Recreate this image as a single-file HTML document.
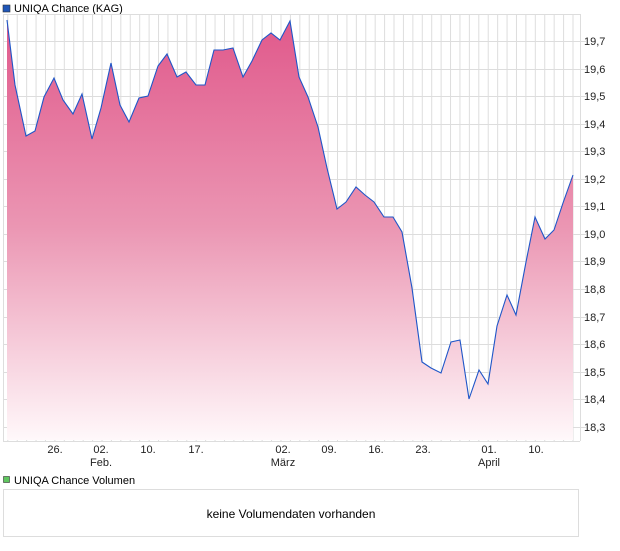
<!DOCTYPE html>
<html><head><meta charset="utf-8"><style>
body{margin:0;background:#fff;width:620px;height:546px;overflow:hidden;font-family:"Liberation Sans",sans-serif}
</style></head><body>
<svg width="620" height="546" viewBox="0 0 620 546" xmlns="http://www.w3.org/2000/svg" font-family="Liberation Sans, sans-serif">
<defs>
<linearGradient id="g" gradientUnits="userSpaceOnUse" x1="0" y1="14" x2="0" y2="440">
<stop offset="0" stop-color="#e0578a"/>
<stop offset="0.5" stop-color="#eb96b3"/>
<stop offset="1" stop-color="#fff8fa"/>
</linearGradient>
<pattern id="vg" patternUnits="userSpaceOnUse" x="7.3" y="0" width="9.42" height="546">
<rect x="0" y="0" width="1" height="546" fill="#dddddd"/>
</pattern>
</defs>
<rect x="3" y="5" width="7" height="7" fill="#1f56b8" stroke="#333" stroke-width="0.6"/>
<text x="14" y="12" font-size="11" fill="#000">UNIQA Chance (KAG)</text>
<rect x="3" y="14" width="577" height="427" fill="url(#vg)"/>
<g stroke="#dddddd" stroke-width="1">
<line x1="3" y1="14.5" x2="580" y2="14.5"/>
<line x1="3" y1="41.5" x2="586" y2="41.5"/>
<line x1="3" y1="69.5" x2="586" y2="69.5"/>
<line x1="3" y1="96.5" x2="586" y2="96.5"/>
<line x1="3" y1="124.5" x2="586" y2="124.5"/>
<line x1="3" y1="151.5" x2="586" y2="151.5"/>
<line x1="3" y1="179.5" x2="586" y2="179.5"/>
<line x1="3" y1="206.5" x2="586" y2="206.5"/>
<line x1="3" y1="234.5" x2="586" y2="234.5"/>
<line x1="3" y1="261.5" x2="586" y2="261.5"/>
<line x1="3" y1="289.5" x2="586" y2="289.5"/>
<line x1="3" y1="317.5" x2="586" y2="317.5"/>
<line x1="3" y1="344.5" x2="586" y2="344.5"/>
<line x1="3" y1="372.5" x2="586" y2="372.5"/>
<line x1="3" y1="399.5" x2="586" y2="399.5"/>
<line x1="3" y1="427.5" x2="586" y2="427.5"/>
<line x1="3" y1="441.5" x2="580" y2="441.5"/>
<line x1="3.5" y1="14" x2="3.5" y2="441"/>
<line x1="580.5" y1="14" x2="580.5" y2="441"/>
</g>
<polygon fill="url(#g)" points="7,20 15,85 26,136 35,131 44,97 54,78 63,100 73,114 82,94 92,139 101,108 111,63 120,105 129,122 139,98 148,96 158,66 167,54 177,77 186,72 196,85 205,85 214,50 223,50 233,48 243,77 252,61 262,40 271,33 280,40 290,21 299,77 308,97 318,127 327,168 337,209 346,202 356,187 365,195 374,202 384,217 393,217 402,232 412,288 422,362 431,368 441,373 451,342 460,340 469,399 479,370 488,384 497,326 507,295 516,315 526,262 535,217 545,239 554,230 563,203 573,175 573,440 7,440"/>
<polyline fill="none" stroke="#1f56c8" stroke-width="1.1" points="7,20 15,85 26,136 35,131 44,97 54,78 63,100 73,114 82,94 92,139 101,108 111,63 120,105 129,122 139,98 148,96 158,66 167,54 177,77 186,72 196,85 205,85 214,50 223,50 233,48 243,77 252,61 262,40 271,33 280,40 290,21 299,77 308,97 318,127 327,168 337,209 346,202 356,187 365,195 374,202 384,217 393,217 402,232 412,288 422,362 431,368 441,373 451,342 460,340 469,399 479,370 488,384 497,326 507,295 516,315 526,262 535,217 545,239 554,230 563,203 573,175"/>
<g font-size="11" fill="#222">
<text x="584" y="45">19,7</text><text x="584" y="73">19,6</text><text x="584" y="100">19,5</text>
<text x="584" y="128">19,4</text><text x="584" y="155">19,3</text><text x="584" y="183">19,2</text>
<text x="584" y="210">19,1</text><text x="584" y="238">19,0</text><text x="584" y="265">18,9</text>
<text x="584" y="293">18,8</text><text x="584" y="321">18,7</text><text x="584" y="348">18,6</text>
<text x="584" y="376">18,5</text><text x="584" y="403">18,4</text><text x="584" y="431">18,3</text>
</g>
<g font-size="11" fill="#222" text-anchor="middle">
<text x="55" y="453">26.</text><text x="101" y="453">02.</text><text x="148" y="453">10.</text>
<text x="196" y="453">17.</text><text x="283" y="453">02.</text><text x="329" y="453">09.</text>
<text x="376" y="453">16.</text><text x="423" y="453">23.</text><text x="489" y="453">01.</text>
<text x="536" y="453">10.</text>
<text x="101" y="466">Feb.</text><text x="283" y="466">März</text><text x="489" y="466">April</text>
</g>
<rect x="3.5" y="476.5" width="6" height="6" fill="#5fc65f" stroke="#333" stroke-width="0.6"/>
<text x="14" y="484" font-size="11" fill="#000">UNIQA Chance Volumen</text>
<rect x="3.5" y="489.5" width="575" height="47" fill="#fff" stroke="#dddddd"/>
<text x="291" y="518" font-size="12" fill="#000" text-anchor="middle">keine Volumendaten vorhanden</text>
</svg>
</body></html>
